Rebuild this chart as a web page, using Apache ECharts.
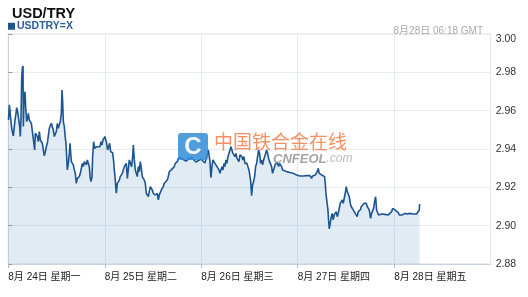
<!DOCTYPE html>
<html><head><meta charset="utf-8">
<script src="https://cdn.jsdelivr.net/npm/echarts@6/dist/echarts.min.js"></script>
<style>html,body{margin:0;padding:0;background:#fff}#c{width:528px;height:297px}</style>
</head><body><div id="c"></div>
<script>
// hours since 8月24日 00:00 GMT
var hours = [0.05,0.26,0.51,0.67,0.76,1.00,1.25,1.50,1.67,1.92,2.08,2.33,2.58,2.83,2.99,3.16,3.33,3.49,3.66,3.74,3.91,4.15,4.32,4.57,4.82,4.98,5.23,5.48,5.73,5.89,6.14,6.31,6.56,6.72,6.97,7.22,7.47,7.72,7.97,8.22,8.46,8.71,8.96,9.21,9.46,9.71,9.96,10.21,10.45,10.70,10.95,11.20,11.45,11.70,11.95,12.20,12.44,12.69,12.94,13.19,13.36,13.52,13.69,13.94,14.10,14.35,14.52,14.68,14.93,15.18,15.35,15.51,15.68,15.93,16.17,16.42,16.67,16.92,17.17,17.42,17.67,17.92,18.16,18.41,18.66,18.91,19.16,19.41,19.66,19.91,20.15,20.40,20.57,20.82,20.98,21.23,21.48,21.73,21.98,22.39,22.81,23.06,23.30,23.55,23.80,24.05,24.30,24.46,24.71,24.96,25.21,25.46,25.71,25.96,26.21,26.37,26.54,26.70,26.87,27.12,27.37,27.62,27.86,28.11,28.36,28.61,28.86,29.11,29.36,29.61,29.85,30.10,
30.43,30.68,30.93,31.10,31.35,31.59,31.84,32.09,32.34,32.59,32.84,33.09,33.33,33.58,33.83,34.08,34.33,34.58,34.83,35.08,35.32,35.57,35.82,36.07,36.32,36.57,36.82,37.07,37.31,37.56,37.81,38.06,38.31,38.56,38.81,39.05,39.30,39.55,39.80,40.05,40.30,40.55,40.80,41.04,41.29,41.54,41.79,42.04,42.29,42.95,44.19,45.44,46.68,47.92,48.92,49.75,50.00,50.16,50.41,50.66,50.91,51.16,51.41,51.66,51.90,52.15,52.40,52.65,52.90,53.15,53.40,53.65,53.89,54.14,54.39,54.64,54.89,55.14,55.39,55.63,55.88,56.13,56.38,56.63,56.88,57.13,57.38,57.62,57.87,58.12,58.37,58.62,58.87,59.12,59.37,59.61,59.86,
60.27,60.52,60.77,61.02,61.27,61.52,61.77,62.01,62.26,62.51,62.76,63.01,63.26,63.51,63.76,64.00,64.25,64.50,64.75,65.00,65.25,65.50,65.74,65.99,66.24,66.49,66.74,66.99,67.24,67.49,67.73,67.98,68.23,68.48,69.23,70.06,70.88,71.71,72.54,73.37,74.20,75.03,75.44,75.69,76.02,76.36,76.60,76.85,77.10,77.35,77.68,78.01,78.35,78.68,78.84,79.01,79.26,79.51,79.67,79.84,80.09,80.34,80.58,80.83,81.08,81.33,81.58,81.83,82.08,82.32,82.57,82.82,83.07,83.32,83.57,83.82,84.07,84.31,84.56,84.81,85.06,85.31,85.56,85.81,86.06,86.30,86.55,86.80,87.05,87.30,87.55,87.80,88.04,88.29,88.54,88.79,89.04,89.29,89.54,89.79,
89.88,90.12,90.37,90.62,90.87,91.12,91.37,91.62,91.87,92.11,92.36,92.86,93.27,93.69,94.10,94.52,94.93,95.35,95.60,95.84,96.18,96.59,97.01,97.25,97.59,97.92,98.25,98.66,98.99,99.24,99.57,99.91,100.32,100.74,101.15,101.56,101.98,102.23,102.31];
var rates = [2.9551,2.9630,2.9638,2.9621,2.9525,2.9491,2.9468,2.9517,2.9551,2.9586,2.9616,2.9595,2.9595,2.9517,2.9465,2.9560,2.9769,2.9821,2.9833,2.9517,2.9656,2.9699,2.9621,2.9543,2.9560,2.9586,2.9551,2.9560,2.9534,2.9508,2.9517,2.9499,2.9395,2.9482,2.9491,2.9465,2.9438,2.9491,2.9447,2.9438,2.9430,2.9421,2.9364,2.9386,2.9412,2.9430,2.9438,2.9508,2.9517,2.9534,2.9543,2.9499,2.9465,2.9456,2.9491,2.9534,2.9508,2.9517,2.9543,2.9586,2.9708,2.9647,2.9543,2.9517,2.9473,2.9430,2.9360,2.9291,2.9325,2.9377,2.9430,2.9421,2.9334,2.9325,2.9317,2.9291,2.9273,2.9221,2.9247,2.9247,2.9256,2.9273,2.9282,2.9325,2.9308,2.9334,2.9343,2.9317,2.9343,2.9334,2.9308,2.9247,2.9230,2.9256,2.9360,2.9438,2.9403,2.9412,2.9412,2.9412,2.9412,2.9438,2.9421,2.9447,2.9456,2.9465,2.9473,2.9430,2.9395,2.9412,2.9430,2.9386,2.9377,2.9381,2.9334,2.9291,2.9256,2.9212,2.9169,2.9221,2.9230,2.9238,2.9256,2.9264,2.9273,2.9291,2.9308,2.9317,2.9325,2.9247,2.9291,2.9343,
2.9351,2.9308,2.9360,2.9421,2.9343,2.9291,2.9273,2.9256,2.9308,2.9282,2.9334,2.9299,2.9256,2.9264,2.9238,2.9221,2.9169,2.9178,2.9152,2.9143,2.9204,2.9212,2.9186,2.9169,2.9178,2.9160,2.9152,2.9169,2.9134,2.9160,2.9169,2.9186,2.9178,2.9204,2.9221,2.9212,2.9230,2.9238,2.9256,2.9282,2.9273,2.9291,2.9282,2.9299,2.9308,2.9325,2.9317,2.9334,2.9351,2.9353,2.9337,2.9358,2.9332,2.9348,2.9327,2.9395,2.9360,2.9334,2.9251,2.9308,2.9343,2.9334,2.9325,2.9317,2.9308,2.9299,2.9291,2.9273,2.9291,2.9308,2.9291,2.9325,2.9308,2.9343,2.9325,2.9360,2.9377,2.9395,2.9412,2.9395,2.9377,2.9386,2.9360,2.9377,2.9351,2.9360,2.9334,2.9369,2.9377,2.9360,2.9343,2.9360,2.9325,2.9334,2.9325,2.9308,2.9291,
2.9238,2.9157,2.9212,2.9230,2.9256,2.9308,2.9325,2.9360,2.9395,2.9377,2.9325,2.9343,2.9317,2.9343,2.9360,2.9377,2.9395,2.9377,2.9351,2.9334,2.9325,2.9308,2.9273,2.9291,2.9308,2.9325,2.9317,2.9325,2.9308,2.9325,2.9317,2.9308,2.9291,2.9282,2.9282,2.9277,2.9273,2.9264,2.9259,2.9259,2.9261,2.9261,2.9247,2.9259,2.9261,2.9264,2.9273,2.9282,2.9299,2.9273,2.9264,2.9264,2.9256,2.9256,2.9221,2.9169,2.9125,2.9082,2.9030,2.8983,2.9012,2.9047,2.9064,2.9030,2.9056,2.9047,2.9073,2.9047,2.9064,2.9073,2.9117,2.9108,2.9134,2.9117,2.9143,2.9169,2.9204,2.9178,2.9169,2.9152,2.9117,2.9099,2.9108,2.9082,2.9073,2.9064,2.9056,2.9047,2.9073,2.9064,2.9082,2.9099,2.9091,2.9108,2.9117,2.9125,2.9117,2.9099,2.9091,2.9082,
2.9073,2.9038,2.9064,2.9073,2.9090,2.9125,2.9151,2.9082,2.9073,2.9056,2.9064,2.9061,2.9056,2.9059,2.9056,2.9056,2.9064,2.9073,2.9090,2.9082,2.9082,2.9078,2.9068,2.9056,2.9056,2.9056,2.9061,2.9064,2.9073,2.9061,2.9064,2.9064,2.9064,2.9061,2.9064,2.9061,2.9056,2.9082,2.9113];
var dayLabels = ['8月 24日 星期一','8月 25日 星期二','8月 26日 星期三','8月 27日 星期四','8月 28日 星期五'];
var yTicks = [2.88, 2.90, 2.92, 2.94, 2.96, 2.98, 3.00];
var seriesName = 'USDTRY=X';
var titleText = 'USD/TRY';
var stampText = '8月28日 06:18 GMT';

var FONT = "'Liberation Sans','Noto Sans CJK SC',sans-serif";
var data = hours.map(function (h, i) { return [h, rates[i]]; });
var chart = echarts.init(document.getElementById('c'), null, {renderer: 'canvas'});
chart.setOption({
  animation: false,
  backgroundColor: '#fff',
  title: [
    {text: titleText, left: 7, top: 2, textStyle: {fontFamily: FONT, fontSize: 14.5, fontWeight: 'bold', color: '#111'}},
    {text: stampText, right: 40, top: 21, textStyle: {fontFamily: FONT, fontSize: 10, fontWeight: 'normal', color: '#aaa'}}
  ],
  legend: {
    left: 8, top: 21, padding: 0, itemWidth: 7, itemHeight: 7, icon: 'rect',
    data: [seriesName],
    textStyle: {fontFamily: FONT, fontSize: 10.5, fontWeight: 'bold', color: '#2a5c96', padding: [1, 0, 0, -3]}
  },
  grid: {left: 8.3, right: 37.3, top: 34, bottom: 33, show: true, borderColor: '#dcdcdc', borderWidth: 1},
  xAxis: {
    type: 'value', min: 0, max: 120, interval: 24,
    axisLine: {show: true, lineStyle: {color: '#c9d6e2'}},
    axisTick: {show: true, length: 4, lineStyle: {color: '#a9bccd'}},
    splitLine: {show: true, lineStyle: {color: '#e4eaf1'}},
    axisLabel: {
      show: true, align: 'left', margin: 8, showMaxLabel: false,
      fontFamily: FONT, fontSize: 10, color: '#222',
      formatter: function (v) { var i = Math.round(v / 24); return dayLabels[i] || ''; }
    }
  },
  yAxis: {
    type: 'value', position: 'right', min: yTicks[0], max: yTicks[yTicks.length - 1], interval: 0.02,
    axisLine: {show: true, lineStyle: {color: '#d0d0d0'}},
    axisTick: {show: true, length: 4, lineStyle: {color: '#999'}},
    splitLine: {show: true, lineStyle: {color: '#e6ecf3'}},
    axisLabel: {
      margin: 5, fontFamily: FONT, fontSize: 10.5, color: '#333',
      verticalAlignMaxLabel: 'top',
      formatter: function (v) { return v.toFixed(2); }
    }
  },
  series: [{
    name: seriesName, type: 'line', data: data, symbol: 'none', showSymbol: false,
    lineStyle: {color: '#1d5591', width: 1.6},
    itemStyle: {color: '#1d5591'},
    areaStyle: {color: 'rgba(95,155,200,0.28)', origin: 'start'}
  }],
  graphic: [
    {type: 'rect', z: 100, shape: {x: 178, y: 133, width: 30, height: 27, r: 3}, style: {fill: 'rgba(52,140,214,0.85)'}},
    {type: 'text', z: 101, x: 193, y: 147, style: {text: 'C', fontFamily: FONT, fontSize: 24, fontWeight: 'bold', fill: 'rgba(255,255,255,0.92)', align: 'center', verticalAlign: 'middle'}},
    {type: 'text', z: 101, x: 214, y: 142, style: {text: '中国铁合金在线', fontFamily: "'Noto Sans CJK SC',sans-serif", fontSize: 19, fill: 'rgba(245,125,70,0.85)', verticalAlign: 'middle'}},
    {type: 'text', z: 101, x: 273, y: 159, style: {
      text: '{a|CNFEOL}{b|.com}', verticalAlign: 'middle',
      rich: {
        a: {fontFamily: FONT, fontSize: 13, fontWeight: 'bold', fontStyle: 'italic', fill: 'rgba(140,140,140,0.8)'},
        b: {fontFamily: FONT, fontSize: 12, fontStyle: 'italic', fill: 'rgba(170,170,170,0.8)'}
      }}}
  ]
});
</script></body></html>
